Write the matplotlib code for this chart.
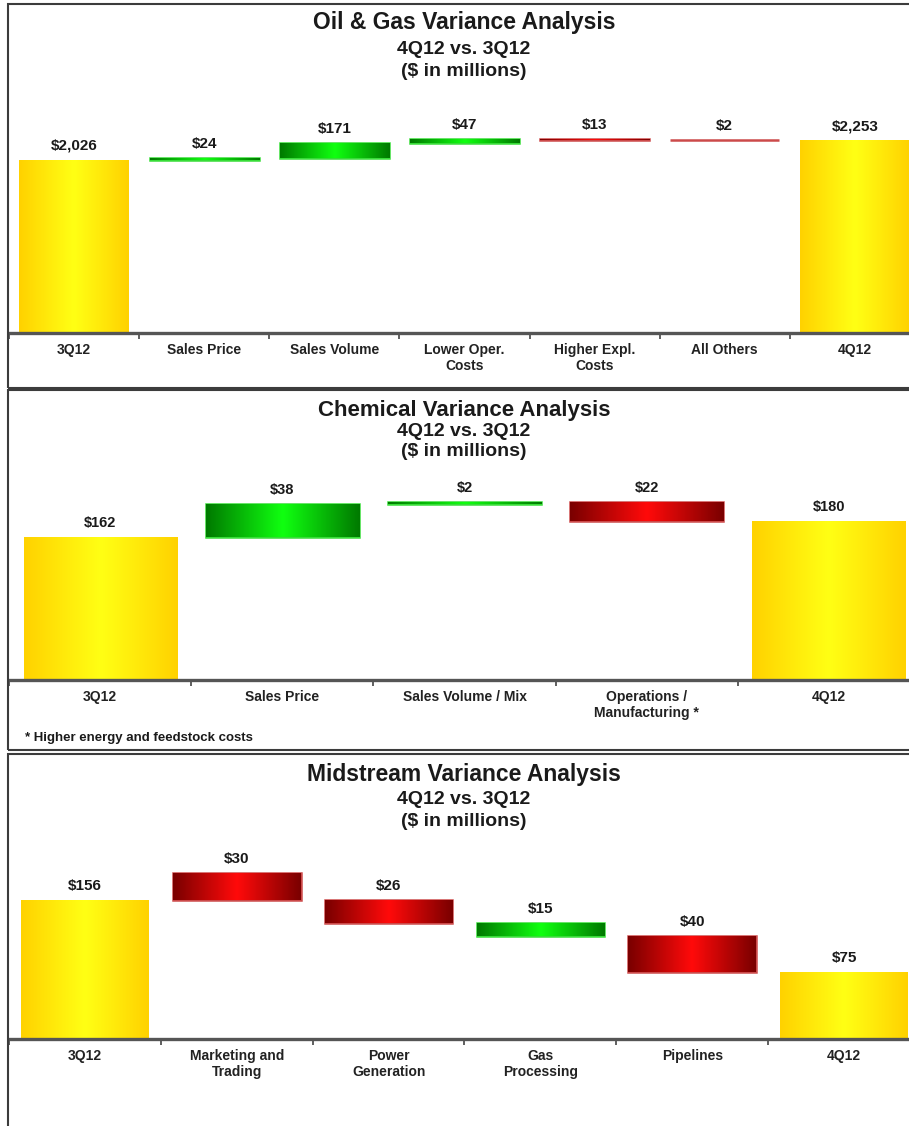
import numpy as np
import matplotlib
matplotlib.use("Agg")
import matplotlib.pyplot as plt
from matplotlib.colors import LinearSegmentedColormap
from matplotlib.patches import Rectangle

plt.rcParams['font.family'] = ['Liberation Sans', 'DejaVu Sans']
plt.rcParams['font.weight'] = 'bold'

W, H = 909, 1126

# Oil & Gas
oil_labels = ["3Q12", "Sales Price", "Sales Volume", "Lower Oper.\nCosts",
              "Higher Expl.\nCosts", "All Others", "4Q12"]
oil_start = 2026
oil_changes = [24, 171, 47, -13, -2]
oil_end = 2253

# Chemical
chem_labels = ["3Q12", "Sales Price", "Sales Volume / Mix",
               "Operations /\nManufacturing *", "4Q12"]
chem_start = 162
chem_changes = [38, 2, -22]
chem_end = 180

# Midstream
mid_labels = ["3Q12", "Marketing and\nTrading", "Power\nGeneration",
              "Gas\nProcessing", "Pipelines", "4Q12"]
mid_start = 156
mid_changes = [-30, -26, 15, -40]
mid_end = 75

yellow = LinearSegmentedColormap.from_list("yel", ["#ffff14", "#ffd200"])
green = LinearSegmentedColormap.from_list("grn", ["#10ff10", "#007a00"])
red = LinearSegmentedColormap.from_list("rd", ["#ff0a0a", "#7a0000"])


def fx(x):
    return x / W


def fy(y):
    return 1 - y / H


def gradient(ax, patch, cmap):
    x0, y0 = patch.get_x(), patch.get_y()
    w, h = patch.get_width(), patch.get_height()
    grad = np.abs(np.linspace(-1, 1, 128))[None, :]
    im = ax.imshow(grad, cmap=cmap, extent=(x0, x0 + w, y0, y0 + h),
                   aspect='auto', interpolation='bicubic', zorder=1.1)
    im.set_clip_path(patch)


def spans(start, changes, end, from_end):
    # (low, high) of each change bar
    out = []
    if from_end:
        # stack the steps back up from the closing total
        lo = end
        for d in reversed(changes):
            out.append((lo, lo + abs(d)))
            lo += abs(d)
        return out[::-1]
    level = start
    for d in changes:
        out.append((min(level, level + d), max(level, level + d)))
        level += d
    return out


def waterfall(fig, labels, start, changes, end, baseline, top_px, titles,
              title_y, title_sizes, val_size=11, cat_size=10, from_end=False):
    n = len(labels)
    bars = spans(start, changes, end, from_end)
    max_level = max([start, end] + [hi for lo, hi in bars])
    head = 45
    ax_h = baseline - top_px + head
    ax = fig.add_axes([fx(9), fy(baseline), fx(911), ax_h / H])
    ymax = max_level * ax_h / (baseline - top_px)

    width = 0.84
    # start and end totals
    for i, v in [(0, start), (n - 1, end)]:
        b = ax.bar(i, v, width=width, color='#ffe800', edgecolor='none')[0]
        gradient(ax, b, yellow)
        ax.annotate(f"${v:,}", (i, v), xytext=(0, 5), textcoords='offset points',
                    ha='center', va='bottom', fontsize=val_size, color='#1a1a1a',
                    annotation_clip=False)

    for k, (d, (lo, hi)) in enumerate(zip(changes, bars)):
        i = k + 1
        if d > 0:
            face, edge, cmap = '#33d833', '#38dc38', green
        else:
            face, edge, cmap = '#c84444', '#cc4a4a', red
        b = ax.bar(i, hi - lo, bottom=lo, width=width, color=face,
                   edgecolor=edge, linewidth=1.8, clip_on=False)[0]
        gradient(ax, b, cmap)
        ax.annotate(f"${abs(d):,}", (i, hi), xytext=(0, 5), textcoords='offset points',
                    ha='center', va='bottom', fontsize=val_size, color='#1a1a1a',
                    annotation_clip=False)

    ax.set_xlim(-0.5, n - 0.5)
    ax.set_ylim(0, ymax)
    for s in ['top', 'left', 'right']:
        ax.spines[s].set_visible(False)
    ax.spines['bottom'].set_linewidth(2.4)
    ax.spines['bottom'].set_color('#555555')
    ax.set_yticks([])
    ax.set_xticks(range(n))
    ax.set_xticklabels(labels, fontsize=cat_size, color='#222222')
    ax.tick_params(axis='x', which='major', length=0, pad=7)
    ax.set_xticks(np.arange(-0.5, n - 0.5), minor=True)
    ax.tick_params(axis='x', which='minor', length=4, width=1.2,
                   color='#444444', direction='out')
    ax.patch.set_alpha(0)

    for t, y, s in zip(titles, title_y, title_sizes):
        fig.text(fx(464), fy(y), t, ha='center', va='center', fontsize=s,
                 color='#1a1a1a')
    return ax


fig = plt.figure(figsize=(W / 100, H / 100), dpi=100)

# panel frames
for top, bottom in [(4, 388), (390, 750), (754, 1140)]:
    fig.patches.append(Rectangle((fx(8), fy(bottom)), fx(930), (bottom - top) / H,
                                 transform=fig.transFigure, fill=False,
                                 edgecolor='#3c3c3c', linewidth=1.5))

sub = ["4Q12 vs. 3Q12", "($ in millions)"]

waterfall(fig, oil_labels, oil_start, oil_changes, oil_end, 333, 139,
          ["Oil & Gas Variance Analysis"] + sub, [22, 49, 71], [16.5, 14, 14])

waterfall(fig, chem_labels, chem_start, chem_changes, chem_end, 680, 502,
          ["Chemical Variance Analysis"] + sub, [410, 432, 452], [16, 14, 14],
          val_size=10.5, cat_size=10)

waterfall(fig, mid_labels, mid_start, mid_changes, mid_end, 1039, 873,
          ["Midstream Variance Analysis"] + sub, [775, 799, 821], [16.5, 14, 14],
          from_end=True)

fig.text(fx(25), fy(738), "* Higher energy and feedstock costs", ha='left',
         va='center', fontsize=9.5, color='#1a1a1a')

fig.savefig("out.png", dpi=100)
